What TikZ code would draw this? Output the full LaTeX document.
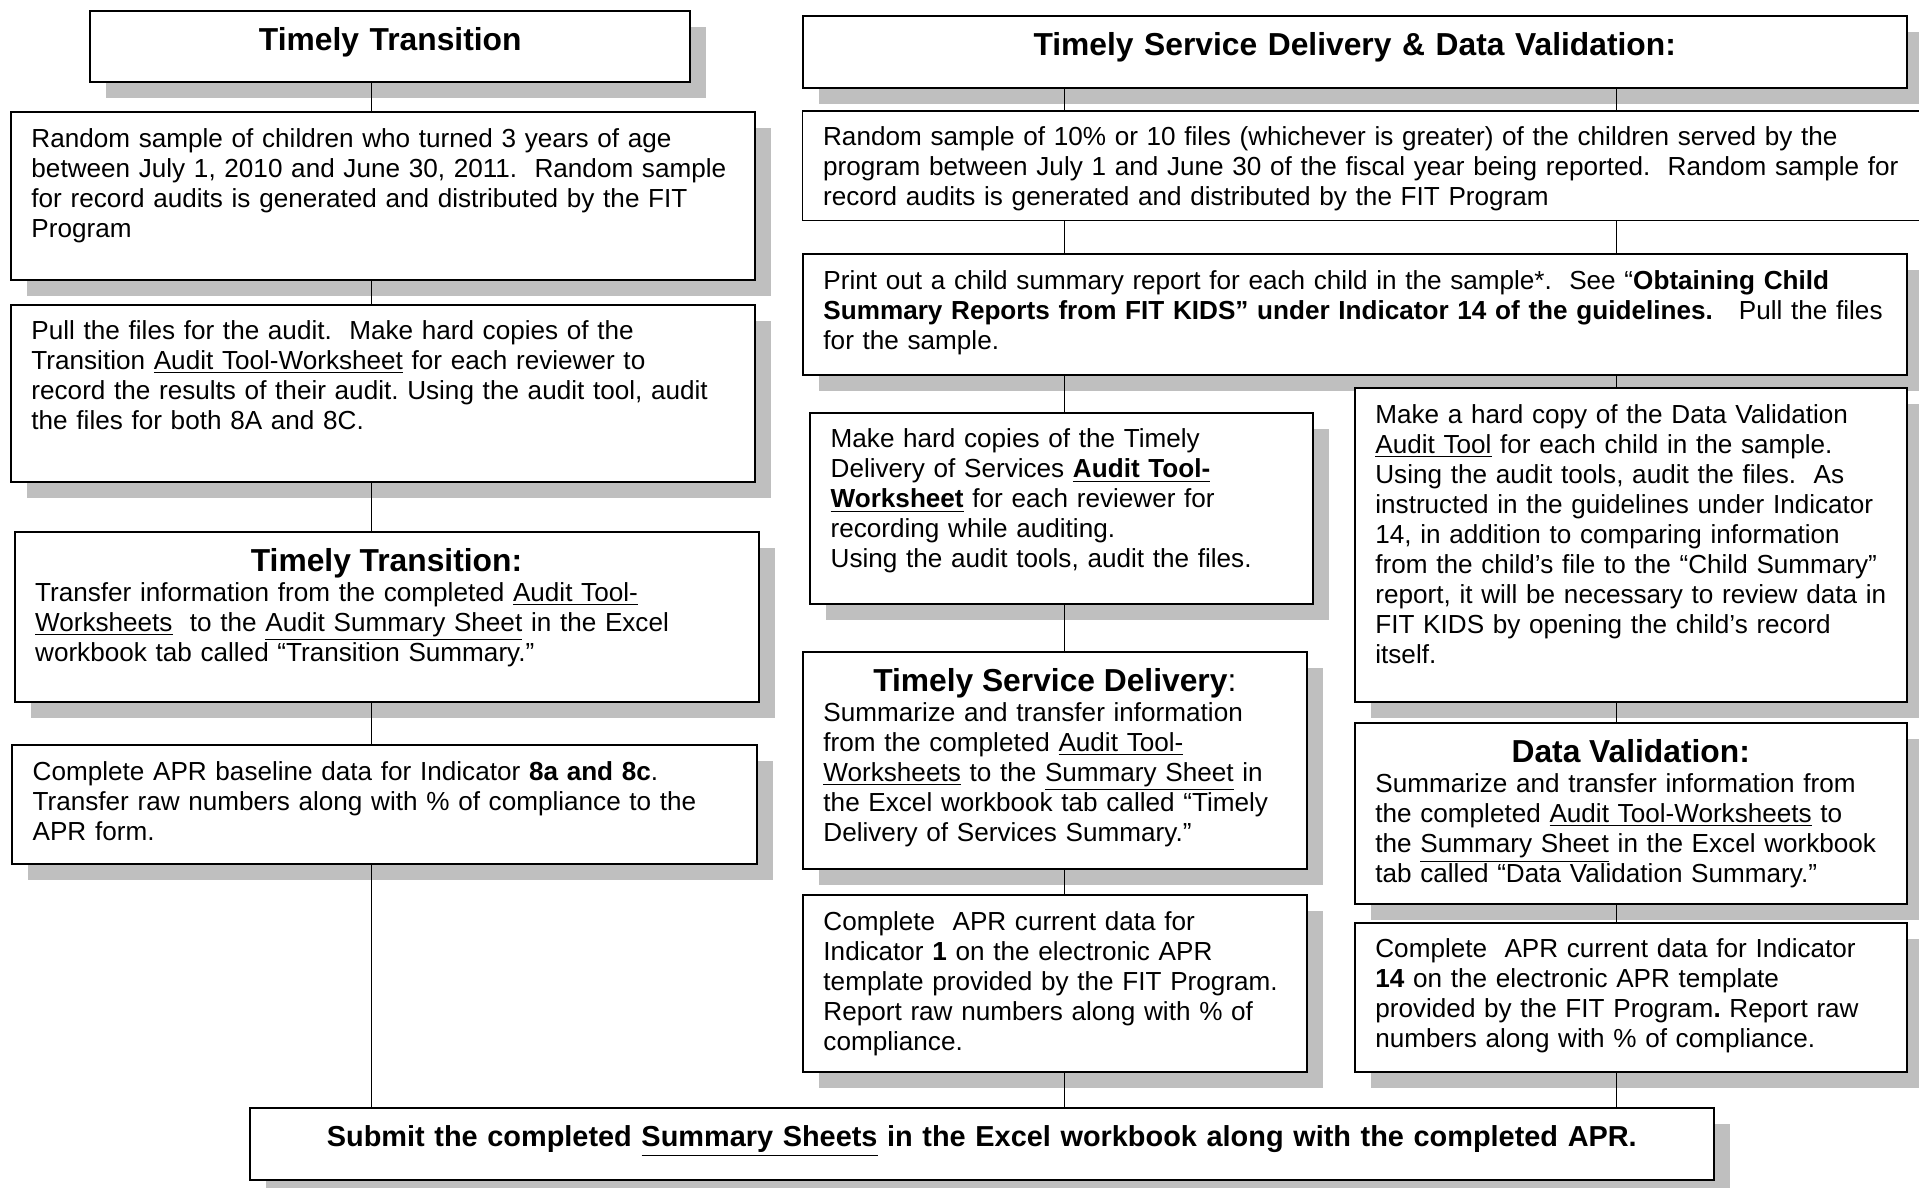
\documentclass[tikz,border=0pt]{standalone}
\usepackage{fontspec}
\setmainfont{Liberation Sans}
\usetikzlibrary{shadows}
\frenchspacing
\hyphenpenalty=10000
\exhyphenpenalty=10000

\newcommand{\boxhead}[1]{{\centering\fontsize{14.3}{13.5}\selectfont #1\par}}

\tikzset{
  plainbox/.style={draw, line width=0.9pt, fill=white, anchor=north west,
    inner xsep=9.3pt, inner ysep=4.5pt, text height=11.2pt},
  boxshadow/.style={drop shadow={shadow xshift=7.2pt, shadow yshift=-7.2pt, fill=black!25, opacity=1}},
  bodytext/.style={align=left, font=\fontsize{11.75}{13.5}\selectfont,
    execute at begin node={\rightskip=0pt plus 1fil minus 40pt}},
  fitbox/.style={plainbox, boxshadow, bodytext},
  headbox/.style={plainbox, boxshadow, align=center, text height=13.5pt,
    font=\fontsize{14.3}{16}\selectfont\bfseries},
  link/.style={line width=0.5pt}
}

\begin{document}
\begin{tikzpicture}[x=0.45pt, y=-0.45pt]
\useasboundingbox (0,0) rectangle (1919,1188);
\clip (0,0) rectangle (1919,1188);

% spines for the connectors
\coordinate (lspine) at (371.4,0);
\coordinate (mspine) at (1064.7,0);
\coordinate (rspine) at (1616.6,0);

% left column: timely transition
\node[headbox, text width=251.3pt, text depth=9.45pt] (ttitle) at (89.3,9.8) {Timely Transition};
\node[fitbox, text width=316.3pt, text depth=55.2pt] (tsample) at (9.8,111.4) {Random sample of children who turned 3 years of age\\
between July 1, 2010 and June 30, 2011.\ \ Random sample\\
for record audits is generated and distributed by the FIT\\
Program};
\node[fitbox, text width=316.3pt, text depth=59.7pt] (tpull) at (9.8,303.5) {Pull the files for the audit.\ \ Make hard copies of the\\
Transition \underline{Audit Tool-Worksheet} for each reviewer to\\
record the results of their audit. Using the audit tool, audit\\
the files for both 8A and 8C.};
\node[fitbox, text width=316.2pt, text height=13.1pt, text depth=54.4pt] (tsumm) at (13.5,531) {\boxhead{\textbf{Timely Transition:}}Transfer information from the completed \underline{Audit Tool-}\\
\underline{Worksheets}\ \ to the \underline{Audit Summary Sheet} in the Excel\\
workbook tab called “Transition Summary.”};
\node[fitbox, text width=316.6pt, text depth=33.2pt] (tapr) at (11,744.3) {Complete APR baseline data for Indicator \textbf{8a and 8c}.\\
Transfer raw numbers along with \% of compliance to the\\
APR form.};

% right column: service delivery and data validation
\node[headbox, text width=478.1pt, text depth=10pt] (stitle) at (801.8,14.7) {Timely Service Delivery \& Data Validation:};
\node[plainbox, bodytext, line width=0.6pt, text width=489.1pt, text depth=29.2pt] (ssample) at (801.8,110.3) {Random sample of 10\% or 10 files (whichever is greater) of the children served by the\\
program between July 1 and June 30 of the fiscal year being reported.\ \ Random sample for\\
record audits is generated and distributed by the FIT Program};
\node[fitbox, text width=478.1pt, text depth=34pt] (sprint) at (801.8,253.3) {Print out a child summary report for each child in the sample*.\ \ See “\textbf{Obtaining Child}\\
\textbf{Summary Reports from FIT KIDS” under Indicator 14 of the guidelines.}\ \ \ Pull the files\\
for the sample.};
\node[fitbox, text width=207.9pt, text depth=66pt] (scopies) at (809,411.7) {Make hard copies of the Timely\\
Delivery of Services \textbf{\underline{Audit Tool-}}\\
\textbf{\underline{Worksheet}} for each reviewer for\\
recording while auditing.\\
Using the audit tools, audit the files.};
\node[fitbox, text width=229.8pt, text depth=120.8pt] (vcopy) at (1353.7,387.3) {Make a hard copy of the Data Validation\\
\underline{Audit Tool} for each child in the sample.\\
Using the audit tools, audit the files.\ \ As\\
instructed in the guidelines under Indicator\\
14, in addition to comparing information\\
from the child’s file to the “Child Summary”\\
report, it will be necessary to review data in\\
FIT KIDS by opening the child’s record\\
itself.};
\node[fitbox, text width=208.2pt, text height=13.1pt, text depth=75.5pt] (ssumm) at (801.8,651) {\boxhead{\textbf{Timely Service Delivery}:}Summarize and transfer information\\
from the completed \underline{Audit Tool-}\\
\underline{Worksheets} to the \underline{Summary Sheet} in\\
the Excel workbook tab called “Timely\\
Delivery of Services Summary.”};
\node[fitbox, text width=229.8pt, text height=13.1pt, text depth=59.1pt] (vsumm) at (1353.7,722.3) {\boxhead{\textbf{Data Validation:}}Summarize and transfer information from\\
the completed \underline{Audit Tool-Worksheets} to\\
the \underline{Summary Sheet} in the Excel workbook\\
tab called “Data Validation Summary.”};
\node[fitbox, text width=208.2pt, text depth=59.3pt] (sapr) at (801.8,894.3) {Complete\ \ APR current data for\\
Indicator \textbf{1} on the electronic APR\\
template provided by the FIT Program.\\
Report raw numbers along with \% of\\
compliance.};
\node[fitbox, text width=229.8pt, text depth=47pt] (vapr) at (1353.7,921.7) {Complete\ \ APR current data for Indicator\\
\textbf{14} on the electronic APR template\\
provided by the FIT Program\textbf{.} Report raw\\
numbers along with \% of compliance.};

% bottom
\node[headbox, font=\fontsize{13}{15}\selectfont\bfseries, text height=12.8pt, text width=640.5pt, text depth=10.7pt] (submit) at (248.5,1106.7) {Submit the completed \underline{Summary Sheets} in the Excel workbook along with the completed APR.};

% connectors
\foreach \a/\b in {ttitle/tsample, tsample/tpull, tpull/tsumm, tsumm/tapr, tapr/submit}
  \draw[link] (\a.south -| lspine) -- (\b.north -| lspine);
\foreach \a/\b in {stitle/ssample, ssample/sprint, sprint/scopies, scopies/ssumm, ssumm/sapr, sapr/submit}
  \draw[link] (\a.south -| mspine) -- (\b.north -| mspine);
\foreach \a/\b in {stitle/ssample, ssample/sprint, sprint/vcopy, vcopy/vsumm, vsumm/vapr, vapr/submit}
  \draw[link] (\a.south -| rspine) -- (\b.north -| rspine);
\end{tikzpicture}
\end{document}
